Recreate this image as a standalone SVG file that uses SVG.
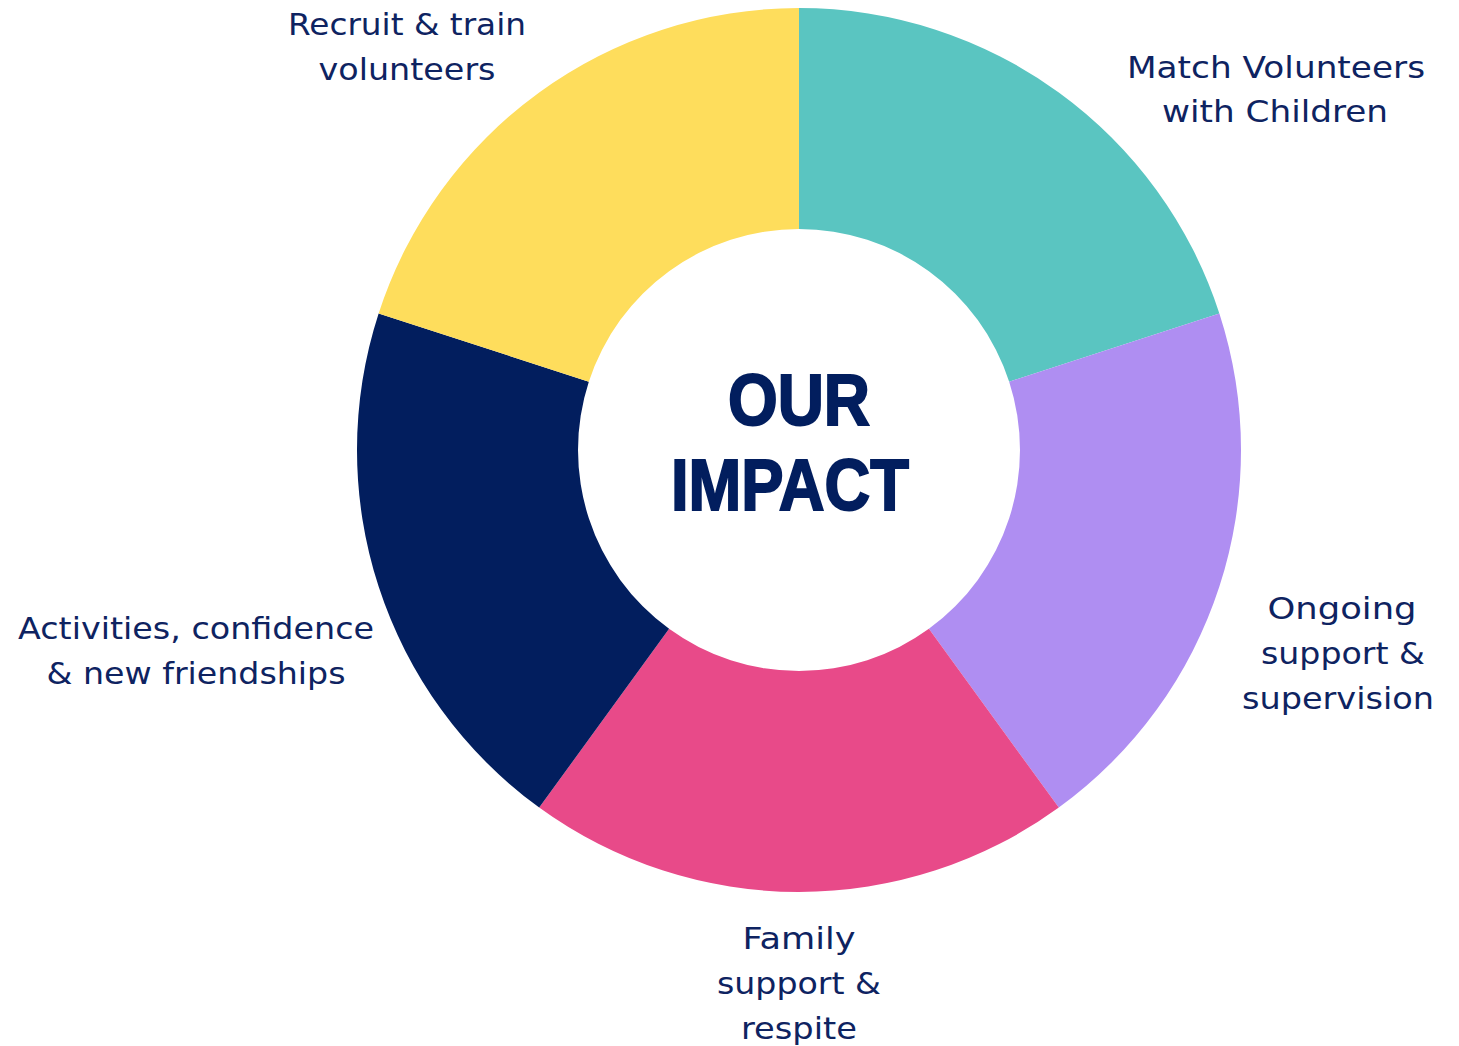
<svg xmlns="http://www.w3.org/2000/svg" width="1459" height="1046" viewBox="0 0 1459 1046">
<style>
.lbl{font-family:"DejaVu Sans","Open Sans",sans-serif;font-size:31px;fill:#0E2361;text-anchor:middle}
.ttl{font-family:"Liberation Sans","Arial",sans-serif;font-weight:bold;font-size:72px;fill:#021E5E;stroke:#021E5E;stroke-width:2;text-anchor:middle}
</style>
<rect width="1459" height="1046" fill="#FFFFFF"/>
<g id="segments">
<g id="seg-match"><path d="M799 8 A442 442 0 0 1 1219.37 313.41 L1009.18 381.71 A221 221 0 0 0 799 229 Z" fill="#5AC5C1"/></g>
<g id="seg-ongoing"><path d="M1219.37 313.41 A442 442 0 0 1 1058.8 807.59 L928.9 628.79 A221 221 0 0 0 1009.18 381.71 Z" fill="#AF8EF2"/></g>
<g id="seg-family"><path d="M1058.8 807.59 A442 442 0 0 1 539.2 807.59 L669.1 628.79 A221 221 0 0 0 928.9 628.79 Z" fill="#E84A89"/></g>
<g id="seg-activities"><path d="M539.2 807.59 A442 442 0 0 1 378.63 313.41 L588.82 381.71 A221 221 0 0 0 669.1 628.79 Z" fill="#021E5E"/></g>
<g id="seg-recruit"><path d="M378.63 313.41 A442 442 0 0 1 799 8 L799 229 A221 221 0 0 0 588.82 381.71 Z" fill="#FEDD5C"/></g>
</g>
<g id="center">
<text class="ttl" x="799" y="425" textLength="142" lengthAdjust="spacingAndGlyphs">OUR</text>
<text class="ttl" x="790" y="510" textLength="238" lengthAdjust="spacingAndGlyphs">IMPACT</text>
</g>
<g id="label-recruit">
<text class="lbl" x="407" y="35" textLength="238" lengthAdjust="spacingAndGlyphs">Recruit &amp; train</text>
<text class="lbl" x="407" y="80" textLength="177" lengthAdjust="spacingAndGlyphs">volunteers</text>
</g>
<g id="label-match">
<text class="lbl" x="1276" y="78" textLength="298" lengthAdjust="spacingAndGlyphs">Match Volunteers</text>
<text class="lbl" x="1275" y="122" textLength="226" lengthAdjust="spacingAndGlyphs">with Children</text>
</g>
<g id="label-ongoing">
<text class="lbl" x="1342" y="619" textLength="149" lengthAdjust="spacingAndGlyphs">Ongoing</text>
<text class="lbl" x="1343" y="664" textLength="164" lengthAdjust="spacingAndGlyphs">support &amp;</text>
<text class="lbl" x="1338" y="709" textLength="192" lengthAdjust="spacingAndGlyphs">supervision</text>
</g>
<g id="label-family">
<text class="lbl" x="799" y="949" textLength="113" lengthAdjust="spacingAndGlyphs">Family</text>
<text class="lbl" x="799" y="994" textLength="164" lengthAdjust="spacingAndGlyphs">support &amp;</text>
<text class="lbl" x="799" y="1039" textLength="116" lengthAdjust="spacingAndGlyphs">respite</text>
</g>
<g id="label-activities">
<text class="lbl" x="196" y="639" textLength="356" lengthAdjust="spacingAndGlyphs">Activities, confidence</text>
<text class="lbl" x="196" y="684" textLength="299" lengthAdjust="spacingAndGlyphs">&amp; new friendships</text>
</g>
</svg>
